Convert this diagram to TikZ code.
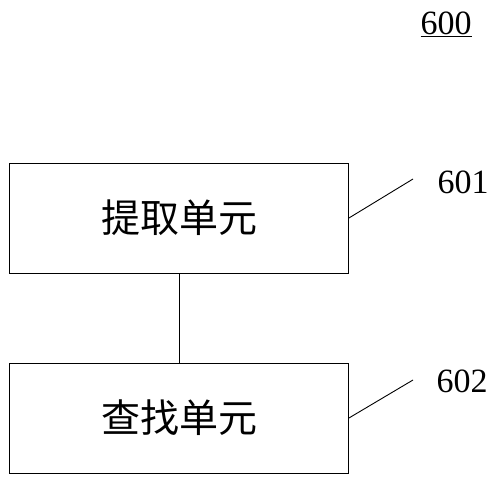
\documentclass[tikz,border=0pt]{standalone}
\usepackage{fontspec}
\setmainfont{Liberation Serif}
\newfontfamily\cjk{Noto Sans CJK SC}
\tikzset{
  unit/.style={draw, line width=0.9pt, minimum width=339pt, minimum height=110pt, font=\cjk\fontsize{39}{44}\selectfont},
  tag/.style={font=\fontsize{34}{38}\selectfont}
}
\begin{document}
\begin{tikzpicture}[x=1pt,y=1pt]
        \useasboundingbox (0,0) rectangle (500,484);
        \node [tag] (fig) at (446,460) {\underline{600}};

        \node [unit] (extract) at (179,266) {提取单元};
        \node [unit] (search) at (179,66) {查找单元};
        \draw [line width=0.6pt] (extract.south) -- (search.north);

        \coordinate (e1) at (413,305);
        \coordinate (e2) at (413,104);
        \draw [line width=0.9pt] (extract.east) -- (e1);
        \draw [line width=0.9pt] (search.east) -- (e2);
        \node [tag] (l601) at (463,302) {601};
        \node [tag] (l602) at (462,103) {602};
      \end{tikzpicture}
\end{document}
